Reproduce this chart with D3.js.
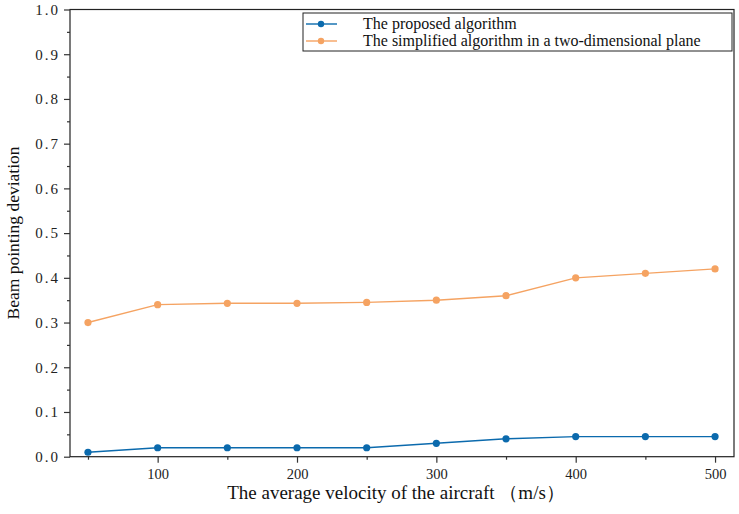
<!DOCTYPE html>
<html>
<head>
<meta charset="utf-8">
<script src="https://cdn.jsdelivr.net/npm/d3@7"></script>
<style>
  body { margin: 0; background: #fff; }
  text { font-family: "Liberation Serif", "DejaVu Serif", serif; }
</style>
</head>
<body>
<div id="container"><svg id="canvas" width="739" height="514"></svg></div>
<script>
// data
var velocity = [50, 100, 150, 200, 250, 300, 350, 400, 450, 500];
var proposed = [0.01, 0.02, 0.02, 0.02, 0.02, 0.03, 0.04, 0.045, 0.045, 0.045];
var simplified = [0.30, 0.34, 0.343, 0.343, 0.345, 0.35, 0.36, 0.40, 0.41, 0.42];
var seriesNames = ["The proposed algorithm", "The simplified algorithm in a two-dimensional plane"];
var xTicks = [100, 200, 300, 400, 500];
var xMinor = [50, 150, 250, 350, 450];
var yTicks = [0, 0.1, 0.2, 0.3, 0.4, 0.5, 0.6, 0.7, 0.8, 0.9, 1.0];
var yMinor = [0.05, 0.15, 0.25, 0.35, 0.45, 0.55, 0.65, 0.75, 0.85, 0.95];

var colors = ["#0b6aad", "#f5a362"];
var serif = '"Liberation Serif", "DejaVu Serif", serif';

var svg = d3.select('#canvas');
var plotLeft = 70, plotRight = 734, plotTop = 9.5, plotBottom = 456.7;

var xScale = d3.scaleLinear().domain([37.1, 513.6]).range([plotLeft, plotRight]);
var yScale = d3.scaleLinear().domain([0, 1]).range([plotBottom, plotTop]);

// frame
svg.append('rect').attr('x', plotLeft).attr('y', plotTop)
  .attr('width', plotRight - plotLeft).attr('height', plotBottom - plotTop)
  .attr('fill', 'none').attr('stroke', '#222').attr('stroke-width', 1.2);

// axes
var gx = svg.append('g').attr('transform', 'translate(0,' + plotBottom + ')')
  .call(d3.axisBottom(xScale).tickValues(xTicks).tickFormat(d3.format('d')).tickSize(6).tickPadding(6));
svg.append('g').attr('transform', 'translate(0,' + plotBottom + ')')
  .call(d3.axisBottom(xScale).tickValues(xMinor).tickFormat('').tickSize(3));
var gy = svg.append('g').attr('transform', 'translate(' + plotLeft + ',0)')
  .call(d3.axisLeft(yScale).tickValues(yTicks).tickFormat(d3.format('.1f')).tickSize(6).tickPadding(4));
svg.append('g').attr('transform', 'translate(' + plotLeft + ',0)')
  .call(d3.axisLeft(yScale).tickValues(yMinor).tickFormat('').tickSize(3));

svg.selectAll('.domain').remove();
svg.selectAll('.tick line').attr('stroke', '#333').attr('stroke-width', 1.2);
gx.attr('font-family', serif).attr('font-size', 14.5);
gy.attr('font-family', serif).attr('font-size', 15);
gx.selectAll('.tick text').attr('fill', '#222');
gy.selectAll('.tick text').attr('fill', '#222').style('letter-spacing', '2px');

// lines
var line = d3.line().x(function(d, i){ return xScale(velocity[i]); }).y(function(d){ return yScale(d); });
[proposed, simplified].forEach(function(series, k){
  svg.append('path').datum(series).attr('d', line)
    .attr('fill', 'none').attr('stroke', colors[k]).attr('stroke-width', 1.4);
  svg.selectAll('.dot' + k).data(series).enter().append('circle')
    .attr('class', 'dot' + k)
    .attr('cx', function(d, i){ return xScale(velocity[i]); })
    .attr('cy', function(d){ return yScale(d); })
    .attr('r', 3.6).attr('fill', colors[k]);
});

// legend
var legend = svg.append('g');
legend.append('rect').attr('x', 303).attr('y', 13).attr('width', 429).attr('height', 38)
  .attr('fill', '#fff').attr('stroke', '#222').attr('stroke-width', 1);
seriesNames.forEach(function(name, k){
  var ly = 24 + k * 17;
  legend.append('line').attr('x1', 306).attr('x2', 337).attr('y1', ly).attr('y2', ly)
    .attr('stroke', colors[k]).attr('stroke-width', 1.4);
  legend.append('circle').attr('cx', 321).attr('cy', ly).attr('r', 3.2).attr('fill', colors[k]);
  legend.append('text').attr('x', 363).attr('y', ly + 5).text(name)
    .style('font-size', '16px').attr('fill', '#111');
});

// axis labels
svg.append('text').attr('x', 396).attr('y', 499).attr('text-anchor', 'middle')
  .style('font-size', '19px').attr('fill', '#111')
  .text('The average velocity of the aircraft （m/s）');
svg.append('text').attr('transform', 'translate(19,' + 233 + ') rotate(-90)').attr('text-anchor', 'middle')
  .style('font-size', '17.5px').attr('fill', '#111')
  .text('Beam pointing deviation');
</script>
</body>
</html>
